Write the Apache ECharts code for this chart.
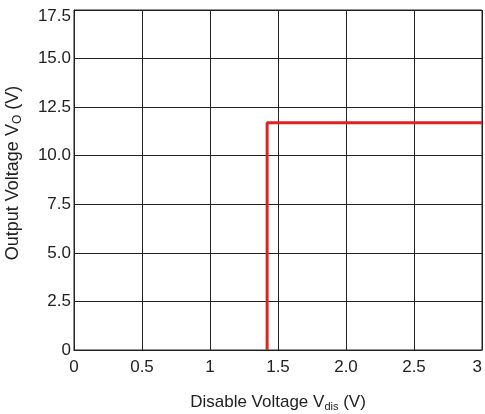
<!DOCTYPE html>
<html><head><meta charset="utf-8">
<script src="https://cdn.jsdelivr.net/npm/echarts@6/dist/echarts.min.js"></script>
<style>html,body{margin:0;padding:0;background:#fff}#c{width:485px;height:414px}</style>
</head><body><div id="c"></div>
<script>
const xValues = [1.42, 1.42, 3.0];
const yValues = [0, 11.7, 11.7];
const xTickLabels = ['0', '0.5', '1', '1.5', '2.0', '2.5', '3'];
const yTickLabels = ['0', '2.5', '5.0', '7.5', '10.0', '12.5', '15.0', '17.5'];

const chart = echarts.init(document.getElementById('c'), null, {renderer: 'canvas'});
const font = 'Liberation Sans, Arial, sans-serif';
chart.setOption({
  animation: false,
  grid: {left: 74, right: 3, top: 10, bottom: 64, show: true, borderColor: '#222', borderWidth: 1,
         containLabel: false, outerBoundsMode: 'none'},
  xAxis: {
    type: 'value', min: 0, max: 3, interval: 0.5,
    axisLine: {show: true, lineStyle: {color: '#222', width: 1}},
    axisTick: {show: false},
    splitLine: {show: true, lineStyle: {color: '#222', width: 1}},
    axisLabel: {color: '#222', fontSize: 17, fontFamily: font, margin: 9, alignMaxLabel: 'right',
      formatter: v => xTickLabels[Math.round(v / 0.5)]},
    name: '{a|Disable Voltage V}{s|dis}{a| (V)}',
    nameLocation: 'middle', nameGap: 42,
    nameTextStyle: {rich: {
      a: {fontSize: 17, fontFamily: font, color: '#222'},
      s: {fontSize: 11, fontFamily: font, color: '#222', padding: [9, 0, 0, 0]}
    }}
  },
  yAxis: {
    type: 'value', min: 0, max: 17.5, interval: 2.5,
    axisLine: {show: true, lineStyle: {color: '#222', width: 1}},
    axisTick: {show: false},
    splitLine: {show: true, lineStyle: {color: '#222', width: 1}},
    axisLabel: {color: '#222', fontSize: 17, fontFamily: font, margin: 3,
      formatter: v => {
        const i = Math.round(v / 2.5);
        return i === yTickLabels.length - 1 ? '{t|' + yTickLabels[i] + '}' : yTickLabels[i];
      },
      rich: {t: {fontSize: 17, fontFamily: font, color: '#222', padding: [13, 0, 0, 0]}}
    },
    name: '{a|Output Voltage V}{s|O}{a| (V)}',
    nameLocation: 'middle', nameGap: 50,
    nameTextStyle: {padding: [0, 0, 0, 14], rich: {
      a: {fontSize: 18, fontFamily: font, color: '#222'},
      s: {fontSize: 12, fontFamily: font, color: '#222', padding: [10, 0, 0, 0]}
    }}
  },
  series: [{
    type: 'line', symbol: 'none',
    data: xValues.map((x, i) => [x, yValues[i]]),
    lineStyle: {color: '#e0231f', width: 3}
  }]
});
</script></body></html>
